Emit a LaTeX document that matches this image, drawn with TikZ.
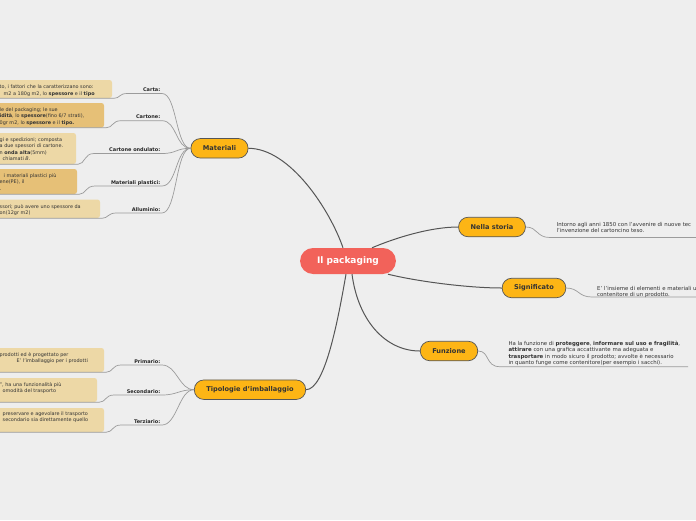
\documentclass[tikz,border=0pt]{standalone}
\usepackage{fontspec}
\setmainfont{DejaVu Sans}
\usepackage{xcolor}
\usetikzlibrary{positioning}
\definecolor{bgcol}{HTML}{EEEEEE}
\definecolor{topicfill}{HTML}{FDB515}
\definecolor{rootfill}{HTML}{F2625A}
\definecolor{notelight}{HTML}{EDD8A6}
\definecolor{notedark}{HTML}{E6C077}
\definecolor{inkgray}{HTML}{333333}
\definecolor{linkgray}{HTML}{555555}
\definecolor{subgray}{HTML}{9B9B9B}

\begin{document}
\begin{tikzpicture}[x=1pt, y=-1pt,
  root/.style={rounded corners=13pt, fill=rootfill, minimum height=26pt, inner xsep=17pt, text=white, font=\fontsize{9}{10}\selectfont\bfseries},
  topic/.style={draw=linkgray, line width=0.7pt, rounded corners=9.5pt, fill=topicfill, minimum height=19.5pt, inner xsep=12pt, text=inkgray, font=\fontsize{6.6}{7.5}\selectfont\bfseries},
  sublabel/.style={anchor=south east, inner xsep=1.5pt, inner ysep=0.8pt, text depth=1pt, text=black!85, font=\fontsize{5}{6}\selectfont\bfseries},
  notetext/.style={anchor=north west, inner sep=0pt, align=left, text=inkgray, font=\fontsize{4.9}{6.4}\selectfont},
  rightnote/.style={notetext, font=\fontsize{5.4}{6.6}\selectfont},
  notebox/.style={rounded corners=2.5pt},
  mainlink/.style={draw=linkgray, line width=1pt},
  sublink/.style={draw=subgray, line width=0.7pt}
]
\useasboundingbox (0,0) rectangle (696,520);
\clip (0,0) rectangle (696,520);
\fill[bgcol] (0,0) rectangle (696,520);

\node[root]  (pack)   at (348,261)   {Il packaging};
\node[topic] (mat)    at (219.5,148.3) {Materiali};
\node[topic] (tip)    at (250,389.7) {Tipologie d'imballaggio};
\node[topic] (storia) at (492,227)   {Nella storia};
\node[topic] (sign)   at (534,288)   {Significato};
\node[topic] (funz)   at (449,351)   {Funzione};

\draw[mainlink] ([xshift=-5pt]pack.north) .. controls (330,210) and (290,148.3) .. (mat.east);
\draw[mainlink] ([xshift=-2pt]pack.south) .. controls (338,320) and (325,389.7) .. (tip.east);
\draw[mainlink] ([xshift=24pt]pack.north) .. controls (395,238) and (430,227) .. (storia.west);
\draw[mainlink] ([xshift=40pt]pack.south) .. controls (420,282) and (470,288) .. (sign.west);
\draw[mainlink] ([xshift=4pt]pack.south) .. controls (358,320) and (385,351) .. (funz.west);

% notes on the right
\draw[sublink] (storia.east) .. controls (538,227) and (536,237.5) .. (550,237.5) -- (700,237.5);
\node[rightnote] (storiatxt) at (556.5,222) {Intorno agli anni 1850 con l'avvenire di nuove tec\\l'invenzione del cartoncino teso.};
\draw[sublink] (sign.east) .. controls (579,288) and (578,297) .. (592,297) -- (700,297);
\node[rightnote] (signtxt) at (597,286) {E' l'insieme di elementi e materiali u\\contenitore di un prodotto.};
\draw[sublink] (funz.east) .. controls (490,351) and (485,366.7) .. (500,366.7) -- (688,366.7);
\node[rightnote] (funztxt) at (508.3,340.5) {Ha la funzione di \textbf{proteggere}, \textbf{informare sul uso e fragilità},\\\textbf{attirare} con una grafica accattivante ma adeguata e\\\textbf{trasportare} in modo sicuro il prodotto; avvolte è necessario\\in quanto funge come contenitore(per esempio i sacchi).};

% materiali
\fill[notelight, notebox] (-10,80) rectangle (112,98);
\node[notetext] (cartatxt) at (-0.5,85) {to, i fattori che la caratterizzano sono:\\\hspace*{4pt}m2 a 180g m2, lo \textbf{spessore} e il \textbf{tipo}};
\node[sublabel] (carta) at (162,93.5) {Carta:};
\draw[sublink] (-10,98.3) -- (114,98.3) .. controls (120,98.3) and (119,93.5) .. (127,93.5) -- (carta.south east) .. controls +(15,0) and +(-15,0) .. (mat.west);

\fill[notedark, notebox] (-10,103) rectangle (104,127.5);
\node[notetext] (cartonetxt) at (-0.5,107.3) {le del packaging; le sue\\\textbf{idità}, lo \textbf{spessore}(fino 6/7 strati),\\0gr m2, lo \textbf{spessore} e il \textbf{tipo.}};
\node[sublabel] (cartone) at (162,120.7) {Cartone:};
\draw[sublink] (-10,127.8) -- (106,127.8) .. controls (113,127.8) and (112,120.7) .. (121,120.7) -- (cartone.south east) .. controls +(15,0) and +(-15,0) .. (mat.west);

\fill[notelight, notebox] (-10,133) rectangle (76,164);
\node[notetext] (ondulatotxt) at (-0.5,137.3) {gi e spedizioni; composta\\a due spessori di cartone.\\n \textbf{onda alta}(5mm)\\\hspace*{3pt}chiamati \textit{B}.};
\node[sublabel] (ondulato) at (162,153.5) {Cartone ondulato:};
\draw[sublink] (-10,164.3) -- (78,164.3) .. controls (85,164.3) and (84,153.5) .. (94,153.5) -- (ondulato.south east) .. controls +(15,0) and +(-15,0) .. (mat.west);

\fill[notedark, notebox] (-10,169) rectangle (77,194);
\node[notetext] (plastitxt) at (-0.5,173.3) {\hspace*{4pt}i materiali plastici più\\ene(PE), il\\.};
\node[sublabel] (plasti) at (162,186) {Materiali plastici:};
\draw[sublink] (-10,194.3) -- (79,194.3) .. controls (86,194.3) and (85,186) .. (95,186) -- (plasti.south east) .. controls +(15,0) and +(-15,0) .. (mat.west);

\fill[notelight, notebox] (-10,199.5) rectangle (100,218);
\node[notetext] (allumtxt) at (-0.5,204.3) {ssori; può avere uno spessore da\\on(12gr m2)};
\node[sublabel] (allum) at (162,213) {Alluminio:};
\draw[sublink] (-10,218.3) -- (102,218.3) .. controls (108,218.3) and (108,213) .. (116,213) -- (allum.south east) .. controls +(15,0) and +(-15,0) .. (mat.west);

% tipologie
\fill[notelight, notebox] (-10,348) rectangle (104,372);
\node[notetext] (primtxt) at (-0.5,352.3) {prodotti ed è progettato per\\\hspace*{17pt}E' l'imballaggio per i prodotti};
\node[sublabel] (prim) at (162,365) {Primario:};
\draw[sublink] (-10,372.3) -- (106,372.3) .. controls (113,372.3) and (112,365) .. (121,365) -- (prim.south east) .. controls +(15,0) and +(-15,0) .. (tip.west);

\fill[notelight, notebox] (-10,378) rectangle (97,402);
\node[notetext] (secondtxt) at (-0.5,382) {", ha una funzionalità più\\\hspace*{3pt}omodità del trasporto};
\node[sublabel] (second) at (162,395) {Secondario:};
\draw[sublink] (-10,402.3) -- (99,402.3) .. controls (106,402.3) and (105,395) .. (114,395) -- (second.south east) .. controls +(15,0) and +(-15,0) .. (tip.west);

\fill[notelight, notebox] (-10,408) rectangle (104,432);
\node[notetext] (terztxt) at (-0.5,411.3) {\hspace*{3pt}preservare e agevolare il trasporto\\\hspace*{3pt}secondario sia direttamente quello};
\node[sublabel] (terz) at (162,425) {Terziario:};
\draw[sublink] (-10,432.3) -- (106,432.3) .. controls (113,432.3) and (112,425) .. (121,425) -- (terz.south east) .. controls +(15,0) and +(-15,0) .. (tip.west);
\end{tikzpicture}
\end{document}
